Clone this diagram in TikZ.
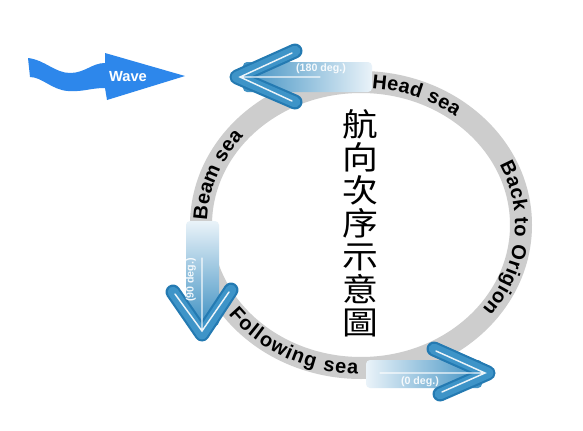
\documentclass[tikz,border=0pt]{standalone}
\usepackage{fontspec}
\setmainfont{Liberation Sans}
\newfontfamily\cjkfont[FakeStretch=1.12]{Noto Sans CJK TC}
\usetikzlibrary{decorations.text}
\definecolor{ringgray}{RGB}{205,205,205}
\definecolor{waveblue}{RGB}{45,135,235}
\definecolor{headdark}{RGB}{36,122,178}
\definecolor{headmid}{RGB}{62,148,200}
\definecolor{shafttail}{RGB}{234,243,249}
\definecolor{shafthead}{RGB}{62,144,194}
\newcommand\ringfont{\fontsize{15}{17}\selectfont\bfseries}

\begin{document}
\begin{tikzpicture}[x=0.75pt, y=0.75pt,
  ring/.style={draw=ringgray, line width=16.5pt},
  ringtext/.style={decorate, decoration={text along path, text align={fit to path}, text={|\ringfont|#1}}},
  shaft/.style={rounded corners=3pt},
  chev/.style={line width=11.25pt, headdark, line cap=round, line join=round},
  chevin/.style={line width=8pt, headmid, line cap=round, line join=round},
  shine/.style={line width=1.1pt, white, opacity=0.9, line cap=round},
  deg/.style={font=\fontsize{8}{9}\selectfont\bfseries, text=white, text opacity=0.9, inner sep=0pt}]
  \path[use as bounding box, fill=white] (0,0) rectangle (583,430);
  \coordinate (c) at (361,205);

  % the ring and its labels
  \draw[ring] (c) ellipse [x radius=160, y radius=143];
  \path[ringtext=Head sea, shift={(c)}] (86:154 and 137) arc [start angle=86, end angle=52, x radius=154, y radius=137];
  \path[ringtext=Back to Origion, shift={(c)}] (26:154 and 137) arc [start angle=26, end angle=-38, x radius=154, y radius=137];
  \path[ringtext=Following sea, shift={(c)}] (217:166 and 149) arc [start angle=217, end angle=269, x radius=166, y radius=149];
  \path[ringtext=Beam sea, shift={(c)}] (178:154 and 137) arc [start angle=178, end angle=141, x radius=154, y radius=137];

  \node[font=\cjkfont\fontsize{24}{24.75}\selectfont, align=center, inner sep=0pt] (title) at (360,207) {航\\向\\次\\序\\示\\意\\圖};

  % wave
  \fill[waveblue] (28,372) .. controls (45,370) and (55,357) .. (70,357) .. controls (85,357) and (92,367) .. (105,367)
    -- (105,377) -- (185,354) -- (107,330) -- (105,342)
    .. controls (90,342) and (84,338) .. (68,339) .. controls (52,340) and (42,353) .. (30,353) -- cycle;
  \node[font=\fontsize{11}{12}\selectfont\bfseries, text=white, inner sep=0pt] (wave) at (128,353) {Wave};

  % 180 deg.
  \coordinate (h180) at (237,353);
  \shade[shaft, left color=shafthead, right color=shafttail] (243,338) rectangle (372,368);
  \draw[chev] (295,379) -- (h180) -- (295,328);
  \draw[chevin] (295,379) -- (h180) -- (295,328);
  \draw[shine] (292,377) -- (240,353) -- (292,329) (240,353) -- (320,353);
  \node[deg] (d180) at (321,361) {(180 deg.)};

  % 90 deg.
  \coordinate (h90) at (202,96);
  \shade[shaft, top color=shafttail, bottom color=shafthead] (186,104) rectangle (219,209);
  \draw[chev] (173,138) -- (h90) -- (231,140);
  \draw[chevin] (173,138) -- (h90) -- (231,140);
  \draw[shine] (175,136) -- (202,99) -- (229,138) (202,99) -- (202,172);
  \node[deg, rotate=90] (d90) at (191,150) {(90 deg.)};

  % 0 deg.
  \coordinate (h0) at (488,57);
  \shade[shaft, left color=shafttail, right color=shafthead] (366,42) rectangle (482,70);
  \draw[chev] (434,81) -- (h0) -- (440,36);
  \draw[chevin] (434,81) -- (h0) -- (440,36);
  \draw[shine] (436,79) -- (485,57) -- (442,38) (485,57) -- (380,57);
  \node[deg] (d0) at (420,48) {(0 deg.)};
\end{tikzpicture}
\end{document}
